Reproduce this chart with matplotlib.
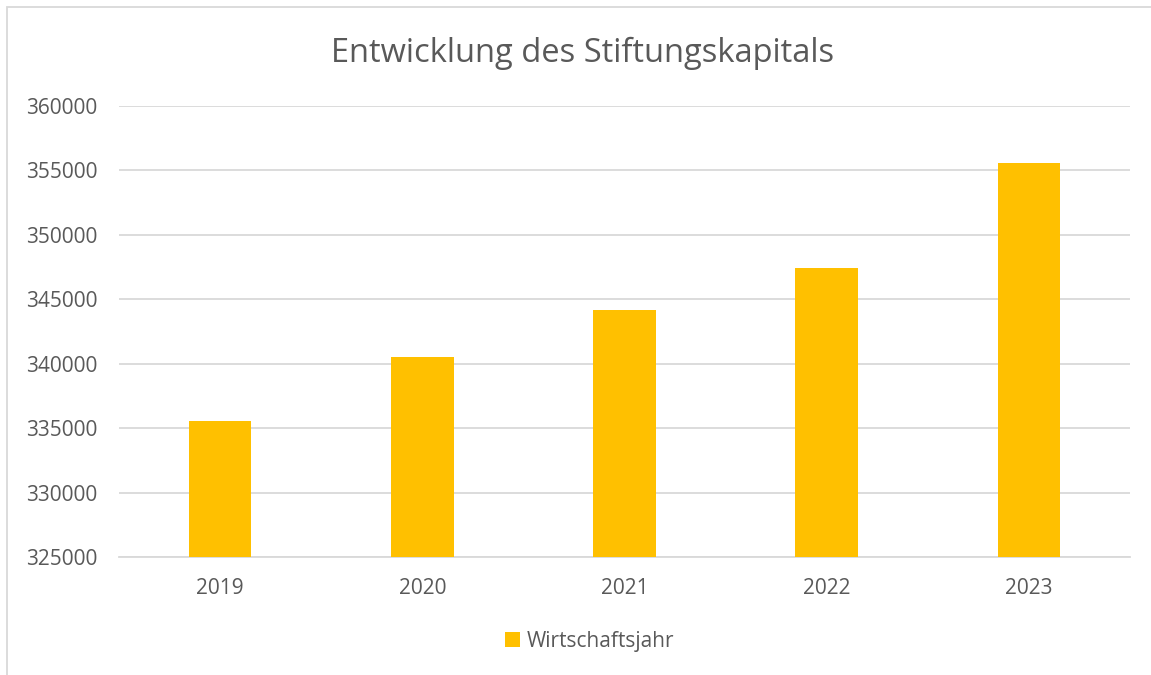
import matplotlib
matplotlib.use("Agg")
import matplotlib.pyplot as plt
from matplotlib.patches import Rectangle

years = ["2019", "2020", "2021", "2022", "2023"]
values = [335550, 340520, 344150, 347430, 355580]
series_name = "Wirtschaftsjahr"
title = "Entwicklung des Stiftungskapitals"
yticks = [325000, 330000, 335000, 340000, 345000, 350000, 355000, 360000]

plt.rcParams['font.family'] = ['Open Sans', 'DejaVu Sans']
txt = "#595959"
grid = "#d9d9d9"
bar_c = "#FFC000"

fig = plt.figure(figsize=(11.51, 6.75), dpi=100)
ax = fig.add_axes([0.1034, 0.1748, 0.8783, 0.6682])
x = list(range(len(years)))
ax.bar(x, [v - yticks[0] for v in values], bottom=yticks[0], width=0.31,
       color=bar_c, label=series_name, zorder=3)
ax.set_xlim(-0.5, len(years) - 0.5)
ax.set_ylim(yticks[0], yticks[-1])
ax.set_yticks(yticks)
ax.set_yticklabels([str(t) for t in yticks])
ax.set_xticks(x)
ax.set_xticklabels(years)
ax.yaxis.grid(True, color=grid, linewidth=1.3, zorder=0)
for s in ["top", "right", "left"]:
    ax.spines[s].set_visible(False)
ax.spines["bottom"].set_color(grid)
ax.spines["bottom"].set_linewidth(1.3)
ax.tick_params(axis="both", length=0, colors=txt, labelsize=15)
ax.tick_params(axis="y", pad=15.5)
ax.tick_params(axis="x", pad=15)

fig.text(0.5063, 0.921, title, ha="center", va="center", fontsize=23.5, color=txt)

leg = fig.legend(loc="center", bbox_to_anchor=(0.512, 0.05), frameon=False,
                 fontsize=15, handlelength=0.75, handleheight=0.75,
                 handletextpad=0.3, labelcolor=txt)

# outer border
fig.add_artist(Rectangle((6.5 / 1151, -0.01), 1.1, 1 - 6.5 / 675 + 0.01,
                         transform=fig.transFigure, fill=False,
                         edgecolor=grid, linewidth=1.3))

fig.savefig("out.png", dpi=100, facecolor="white")
